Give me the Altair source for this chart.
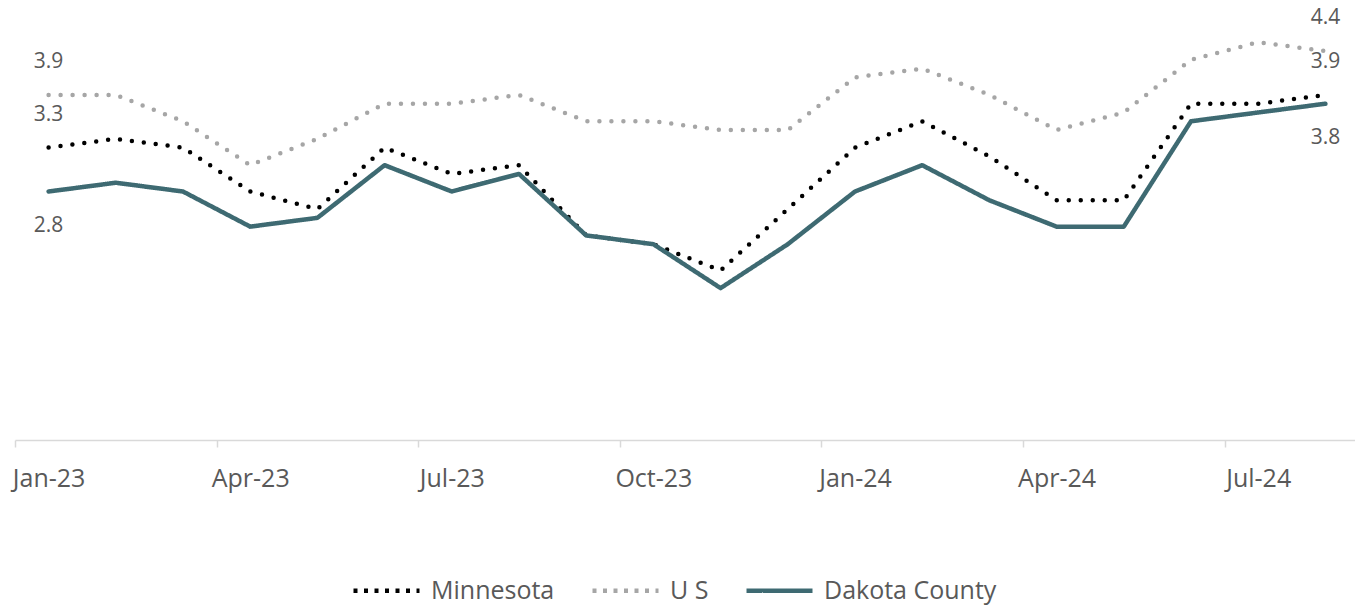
import altair as alt
import pandas as pd

months = ["Jan-23", "Feb-23", "Mar-23", "Apr-23", "May-23", "Jun-23", "Jul-23",
          "Aug-23", "Sep-23", "Oct-23", "Nov-23", "Dec-23", "Jan-24", "Feb-24",
          "Mar-24", "Apr-24", "May-24", "Jun-24", "Jul-24", "Aug-24"]
tick_months = ["Jan-23", "Apr-23", "Jul-23", "Oct-23", "Jan-24", "Apr-24", "Jul-24"]

minnesota = [3.3, 3.4, 3.3, 2.8, 2.6, 3.3, 3.0, 3.1, 2.3, 2.2, 1.9, 2.6, 3.3, 3.6,
             3.2, 2.7, 2.7, 3.8, 3.8, 3.9]
us = [3.9, 3.9, 3.6, 3.1, 3.4, 3.8, 3.8, 3.9, 3.6, 3.6, 3.5, 3.5, 4.1, 4.2,
      3.9, 3.5, 3.7, 4.3, 4.5, 4.4]
dakota = [2.8, 2.9, 2.8, 2.4, 2.5, 3.1, 2.8, 3.0, 2.3, 2.2, 1.7, 2.2, 2.8, 3.1,
          2.7, 2.4, 2.4, 3.6, 3.7, 3.8]

series_names = ["Minnesota", "U S", "Dakota County"]
series_colors = ["#000000", "#A6A6A6", "#3E6A72"]
series_dash = [[0, 12], [0, 12], [1, 0]]          # drawn lines (round caps -> dots)
legend_dash = [[4, 6.5], [4, 6.5], [1, 0]]        # legend symbols (butt caps)
label_side = ["above", "above", "below"]

rows = []
labels = []
for name, vals, side in zip(series_names, [minnesota, us, dakota], label_side):
    for m, v in zip(months, vals):
        rows.append({"month": m, "series": name, "value": v})
    for idx in (0, len(months) - 1):
        labels.append({"month": months[idx], "series": name, "value": vals[idx], "side": side})
df = pd.DataFrame(rows)
lab = pd.DataFrame(labels)

FONT = "Open Sans"
TXT = "#595959"
W = 1344
H = 432
HALF_BAND = W / len(months) / 2

x_enc = alt.X(
    "month:N", sort=months,
    scale=alt.Scale(type="band", paddingInner=0, paddingOuter=0, domain=months),
    axis=alt.Axis(values=tick_months, labelAngle=0, title=None,
                  tickOffset=-HALF_BAND, labelOffset=HALF_BAND,
                  labelFont=FONT, labelFontSize=25, labelColor=TXT, labelPadding=19,
                  domainColor="#D9D9D9", domainWidth=1.5, tickColor="#D9D9D9",
                  tickWidth=1.5, tickSize=7, grid=False),
)
y_enc = alt.Y("value:Q", scale=alt.Scale(domain=[-0.03, 4.89], nice=False, zero=False), axis=None)

legend = alt.Legend(orient="none", legendX=336, legendY=547, direction="horizontal",
                    title=None, symbolType="stroke", symbolSize=4356,
                    symbolStrokeWidth=4.5, symbolOpacity=1, labelFont=FONT,
                    labelFontSize=25, labelColor=TXT, labelLimit=400,
                    columnPadding=28, labelOffset=9)

# legend carrier: invisible lines whose legend shows the series styles
legend_layer = alt.Chart(df).mark_line(opacity=0, strokeWidth=4.5).encode(
    x=x_enc,
    y=y_enc,
    color=alt.Color("series:N", sort=series_names,
                    scale=alt.Scale(domain=series_names, range=series_colors), legend=legend),
    strokeDash=alt.StrokeDash("series:N", sort=series_names,
                              scale=alt.Scale(domain=series_names, range=legend_dash), legend=legend),
)

line_layers = []
for name, col, dash in zip(series_names, series_colors, series_dash):
    line_layers.append(
        alt.Chart(df).transform_filter(alt.datum.series == name).mark_line(
            strokeWidth=4.5, strokeCap="round", strokeJoin="round", color=col, strokeDash=dash
        ).encode(x=x_enc, y=y_enc)
    )

above = alt.Chart(lab).transform_filter(alt.datum.side == "above").mark_text(
    dy=-33, fontSize=21, font=FONT, color=TXT, baseline="middle", align="center"
).encode(x=x_enc, y=y_enc, text=alt.Text("value:Q", format=".1f"))

below = alt.Chart(lab).transform_filter(alt.datum.side == "below").mark_text(
    dy=34, fontSize=21, font=FONT, color=TXT, baseline="middle", align="center"
).encode(x=x_enc, y=y_enc, text=alt.Text("value:Q", format=".1f"))

chart = alt.layer(legend_layer, *line_layers, above, below).properties(
    width=W, height=H,
    autosize=alt.AutoSizeParams(type="none"),
    padding={"left": 7, "top": 0, "right": -4, "bottom": 165},
).configure_view(stroke=None)

chart.save("out.html", embed_options={"renderer": "svg", "actions": False})
